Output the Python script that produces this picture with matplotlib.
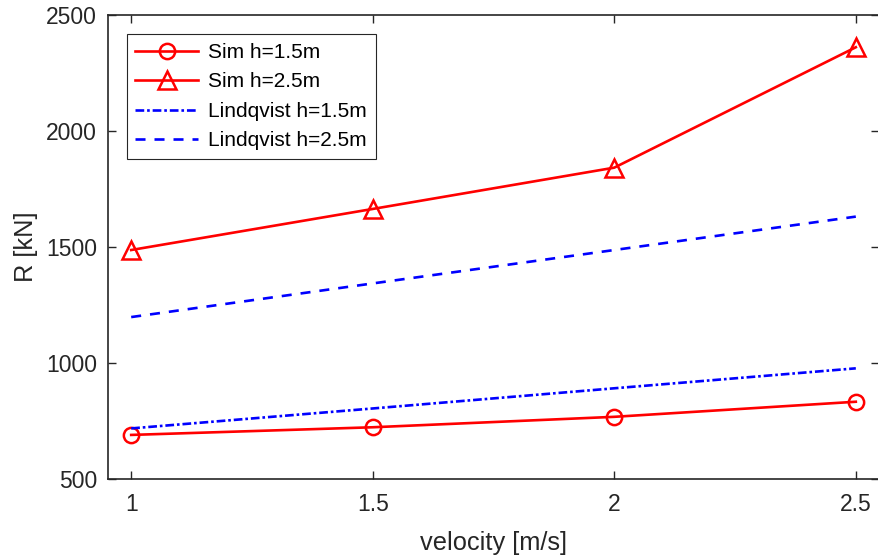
import matplotlib
matplotlib.use("Agg")
import matplotlib.pyplot as plt

velocity = [1.0, 1.5, 2.0, 2.5]
sim_h15 = [690, 723, 768, 833]
sim_h25 = [1487, 1664, 1842, 2361]
lind_h15 = [718, 804, 891, 977]
lind_h25 = [1198, 1343, 1487, 1631]

xticks = [1, 1.5, 2, 2.5]
xticklabels = ["1", "1.5", "2", "2.5"]
yticks = [500, 1000, 1500, 2000, 2500]

plt.rcParams['font.family'] = ['Liberation Sans', 'DejaVu Sans']

fig = plt.figure(figsize=(8.79, 5.56), dpi=100)
ax = fig.add_axes([108/879, 1 - 479/556, (879 - 108)/879, (479 - 15)/556])

lw = 1.9
ax.plot(velocity, sim_h15, color='red', lw=lw, marker='o', ms=11, mfc='none', mew=1.8, label='Sim h=1.5m')
ax.plot(velocity, sim_h25, color='red', lw=lw, marker='^', ms=12.5, mfc='none', mew=1.8, label='Sim h=2.5m')
ax.plot(velocity, lind_h15, color='blue', lw=lw, ls=(0, (3.3, 1.1, 1.0, 1.1)), label='Lindqvist h=1.5m')
ax.plot(velocity, lind_h25, color='blue', lw=lw, ls=(0, (3.8, 3.4)), label='Lindqvist h=2.5m')

ax.set_xlim(0.952, 2.548)
ax.set_ylim(500, 2500)
ax.set_xticks(xticks)
ax.set_xticklabels(xticklabels)
ax.set_yticks(yticks)

dark = '#262626'
for s in ax.spines.values():
    s.set_color(dark)
    s.set_linewidth(1.2)
ax.tick_params(direction='in', top=True, right=True, length=6, width=1.0,
               colors=dark, labelsize=16.5)
ax.tick_params(axis='x', pad=10)
ax.tick_params(axis='y', pad=8)

ax.set_xlabel('velocity [m/s]', fontsize=18.3, color=dark, labelpad=11)
ax.set_ylabel('R [kN]', fontsize=18.3, color=dark, labelpad=6)

leg = ax.legend(loc='upper left', bbox_to_anchor=((126.7-108)/771, (479-34.3)/464), fontsize=15,
                handlelength=3.0, frameon=True, fancybox=False, borderpad=0.42,
                labelspacing=0.5, handletextpad=0.5, borderaxespad=0)
leg.get_frame().set_edgecolor(dark)
leg.get_frame().set_linewidth(0.8)
leg.get_frame().set_alpha(1)

fig.savefig('out.png', dpi=100)
